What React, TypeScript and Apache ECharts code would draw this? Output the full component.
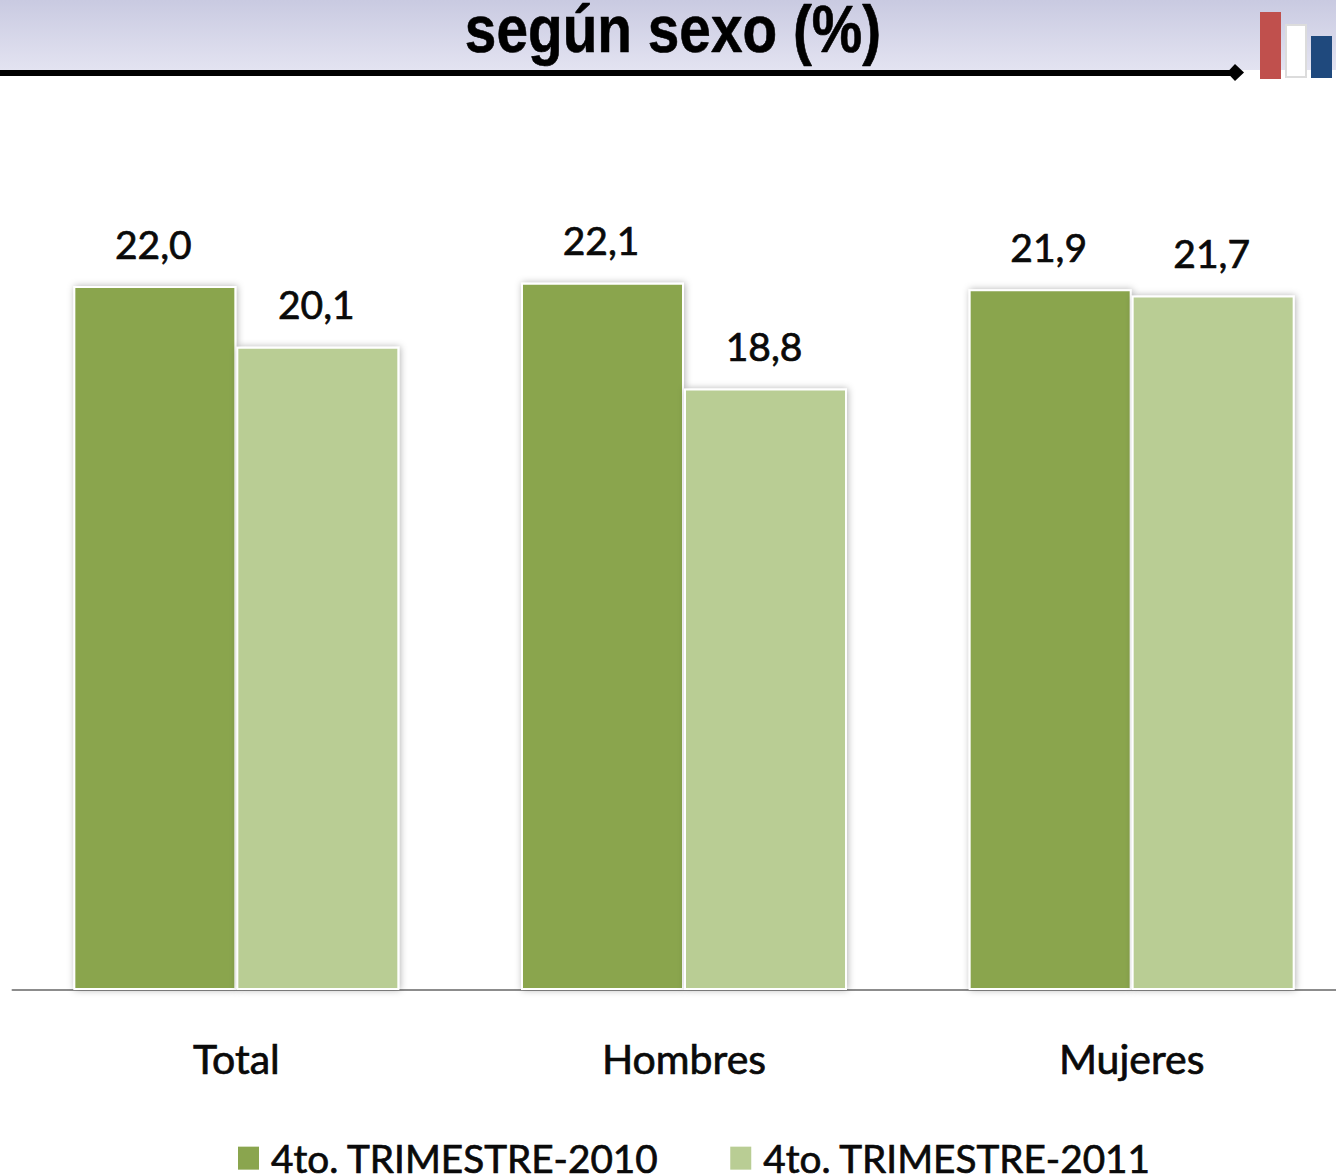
import React, { useEffect, useRef } from "react";
import * as echarts from "echarts";

const categories = ["Total", "Hombres", "Mujeres"];
const seriesNames = ["4to. TRIMESTRE-2010", "4to. TRIMESTRE-2011"];
const values2010 = [22.0, 22.1, 21.9];
const values2011 = [20.1, 18.8, 21.7];
const colors = ["#8aa54e", "#b9cd94"];
const titleText = "según sexo (%)";

const fmt = (v: number) => v.toFixed(1).replace(".", ",");

export default function App() {
  const ref = useRef<HTMLDivElement>(null);
  useEffect(() => {
    document.body.style.margin = "0";
    document.body.style.overflow = "hidden";
    const chart = echarts.init(ref.current!, null, { renderer: "svg" });
    const font = "Lato";
    const heavy = { textBorderColor: "#0a0a0a", textBorderWidth: 0.7 };
    const makeSeries = (name: string, data: number[], color: string) => ({
      name,
      type: "bar" as const,
      data,
      barWidth: 163,
      barGap: "0%",
      itemStyle: {
        color,
        borderColor: "#ffffff",
        borderWidth: 2,
        shadowColor: "rgba(0,0,0,0.3)",
        shadowBlur: 7,
        shadowOffsetX: 1,
      },
      label: {
        show: true,
        position: "top" as const,
        distance: 23,
        offset: [-1.5, 0],
        formatter: (p: any) => fmt(p.value),
        color: "#0a0a0a",
        fontFamily: font,
        fontSize: 39,
        ...heavy,
      },
    });
    chart.setOption({
      animation: false,
      backgroundColor: "#ffffff",
      grid: { left: 12.5, top: 30, width: 1343, height: 960, outerBoundsMode: "none" },
      xAxis: {
        type: "category",
        data: categories,
        axisTick: { show: false },
        axisLine: { lineStyle: { color: "#8c8c8c", width: 2 } },
        axisLabel: {
          color: "#0a0a0a",
          fontFamily: font,
          fontSize: 41,
          margin: 48,
          ...heavy,
        },
      },
      yAxis: { type: "value", min: 0, max: 30, interval: 10, show: false, splitLine: { show: false } },
      legend: {
        bottom: -3,
        left: 238,
        itemWidth: 21,
        itemHeight: 23,
        itemGap: 71,
        icon: "rect",
        data: seriesNames,
        itemStyle: { borderWidth: 0, shadowBlur: 0, shadowOffsetX: 0 },
        textStyle: {
          color: "#0a0a0a",
          fontFamily: font,
          fontSize: 38.7,
          padding: [0, 0, 0, 7],
          ...heavy,
        },
        padding: 0,
      },
      series: [
        makeSeries(seriesNames[0], values2010, colors[0]),
        makeSeries(seriesNames[1], values2011, colors[1]),
      ],
      graphic: [
        {
          type: "rect",
          z: 0,
          shape: { x: 0, y: 0, width: 1336, height: 70 },
          style: {
            fill: new echarts.graphic.LinearGradient(0, 0, 0, 1, [
              { offset: 0, color: "#c9cae1" },
              { offset: 1, color: "#e3e3f1" },
            ]),
          },
        },
        { type: "rect", z: 5, shape: { x: 0, y: 70, width: 1236, height: 6 }, style: { fill: "#000000" } },
        {
          type: "polygon",
          z: 5,
          shape: { points: [[1235, 64], [1244, 72.5], [1235, 81], [1227, 72.5]] },
          style: { fill: "#000000" },
        },
        { type: "rect", z: 5, shape: { x: 1260, y: 12, width: 21, height: 67 }, style: { fill: "#c0504d" } },
        {
          type: "rect",
          z: 5,
          shape: { x: 1286, y: 25, width: 20, height: 52 },
          style: { fill: "#ffffff", stroke: "#dcdcdc", lineWidth: 2 },
        },
        { type: "rect", z: 5, shape: { x: 1311, y: 36, width: 21, height: 42 }, style: { fill: "#1f497d" } },
        {
          type: "text",
          z: 6,
          x: 673,
          y: 29,
          scaleX: 0.86,
          style: {
            text: titleText,
            fill: "#000000",
            stroke: "#000000",
            lineWidth: 0.6,
            fontFamily: "Liberation Sans",
            fontWeight: "bold",
            fontSize: 66,
            textAlign: "center",
            textVerticalAlign: "middle",
          },
        },
      ],
    });
    return () => chart.dispose();
  }, []);
  return <div ref={ref} style={{ width: 1336, height: 1175 }} />;
}
